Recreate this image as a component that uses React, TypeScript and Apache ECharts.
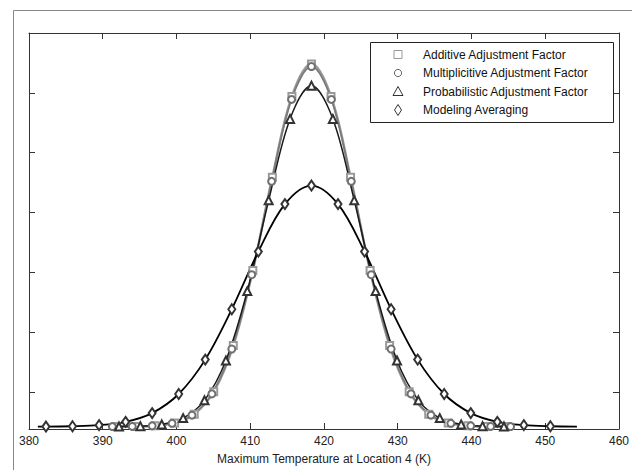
import { useEffect, useRef } from "react";
import * as echarts from "echarts";

// Temperature samples (K) and density values for each adjustment method
const additiveX = [391.8, 394.45, 397.1, 399.75, 402.4, 405.05, 407.7, 410.35, 413.0, 415.65, 418.3, 420.95, 423.6, 426.25, 428.9, 431.55, 434.2, 436.85, 439.5, 442.15, 444.8];
const additiveY = [0.00001, 0.00003, 0.00015, 0.00062, 0.00208, 0.00583, 0.01355, 0.02609, 0.04167, 0.05518, 0.0606, 0.05518, 0.04167, 0.02609, 0.01355, 0.00583, 0.00208, 0.00062, 0.00015, 0.00003, 0.00001];

const multiplicativeX = [391.3, 394.0, 396.7, 399.4, 402.1, 404.8, 407.5, 410.2, 412.9, 415.6, 418.3, 421.0, 423.7, 426.4, 429.1, 431.8, 434.5, 437.2, 439.9, 442.6, 445.3];
const multiplicativeY = [0.00001, 0.00003, 0.00013, 0.00055, 0.00191, 0.00547, 0.01297, 0.02539, 0.04101, 0.05469, 0.0602, 0.05469, 0.04101, 0.02539, 0.01297, 0.00547, 0.00191, 0.00055, 0.00013, 0.00003, 0.00001];

const probabilisticX = [392.2, 395.1, 398.0, 400.9, 403.8, 406.7, 409.6, 412.5, 415.4, 418.3, 421.2, 424.1, 427.0, 429.9, 432.8, 435.7, 438.6, 441.5, 444.4];
const probabilisticY = [0.00001, 0.00008, 0.00037, 0.00142, 0.00439, 0.01105, 0.02265, 0.03782, 0.05144, 0.057, 0.05144, 0.03782, 0.02265, 0.01105, 0.00439, 0.00142, 0.00037, 0.00008, 0.00001];

const averagingX = [381.2, 382.3, 385.9, 389.5, 393.1, 396.7, 400.3, 403.9, 407.5, 411.1, 414.7, 418.3, 421.9, 425.5, 429.1, 432.7, 436.3, 439.9, 443.5, 447.1, 450.7, 454.3];
const averagingY = [0.00001, 0.00001, 0.00006, 0.00024, 0.0008, 0.00226, 0.00545, 0.0112, 0.01962, 0.02926, 0.0372, 0.0403, 0.0372, 0.02926, 0.01962, 0.0112, 0.00545, 0.00226, 0.0008, 0.00024, 0.00006, 0.00001];
// the first and last averaging samples only extend the curve and carry no marker
const averagingMarked = averagingX.map((_, i) => i > 0 && i < averagingX.length - 1);

const seriesNames = [
  "Additive Adjustment Factor",
  "Multiplicitive Adjustment Factor",
  "Probabilistic Adjustment Factor",
  "Modeling Averaging",
];

const xTickValues = [380, 390, 400, 410, 420, 430, 440, 450, 460];
const yTickValues = [0.0058, 0.0158, 0.0258, 0.0358, 0.0458, 0.0558, 0.0658];

const FONT = "'Liberation Sans', Arial, sans-serif";
const AXIS_COLOR = "#333";

function pairs(xs: number[], ys: number[], marked?: boolean[]) {
  return xs.map((x, i) =>
    marked && !marked[i] ? { value: [x, ys[i]], symbol: "none" } : [x, ys[i]]
  );
}

function buildOption(): echarts.EChartsOption {
  const xMin = xTickValues[0];
  const xMax = xTickValues[xTickValues.length - 1];
  const baseX = {
    type: "value" as const,
    min: xMin,
    max: xMax,
    interval: 10,
    splitLine: { show: false },
    axisLine: { show: true, onZero: false, lineStyle: { color: AXIS_COLOR, width: 1 } },
    axisTick: { show: true, inside: true, length: 6, lineStyle: { color: AXIS_COLOR } },
  };
  const baseY = {
    type: "value" as const,
    min: -0.0004,
    max: 0.0658,
    splitLine: { show: false },
    axisLabel: { show: false },
    axisLine: { show: true, onZero: false, lineStyle: { color: AXIS_COLOR, width: 1 } },
    axisTick: { show: true, inside: true, length: 6, customValues: yTickValues, lineStyle: { color: AXIS_COLOR } },
  };

  const lineSeries = (
    name: string,
    data: any[],
    symbol: string,
    symbolSize: number | number[],
    lineColor: string,
    lineWidth: number,
    markerColor: string
  ) => ({
    type: "line" as const,
    name,
    data,
    smooth: 0.35,
    symbol,
    symbolSize,
    showAllSymbol: true,
    clip: false,
    lineStyle: { color: lineColor, width: lineWidth },
    itemStyle: { color: markerColor, borderColor: markerColor, borderWidth: 1 },
    emphasis: { disabled: true },
  });

  const legendRows = [54.5, 73, 91.5, 110];
  const iconX = 398;
  const textX = 423;

  return {
    animation: false,
    backgroundColor: "#fff",
    grid: { left: 29, right: 13, top: 33, bottom: 40, containLabel: false },
    xAxis: [
      {
        ...baseX,
        position: "bottom",
        axisLabel: { color: "#222", fontSize: 12, fontFamily: FONT, margin: 6 },
        name: "Maximum Temperature at Location 4 (K)",
        nameLocation: "middle",
        nameGap: 24,
        nameTextStyle: { color: "#222", fontSize: 12, fontFamily: FONT },
      },
      { ...baseX, position: "top", axisLabel: { show: false } },
    ],
    yAxis: [
      { ...baseY, position: "left" },
      { ...baseY, position: "right" },
    ],
    series: [
      lineSeries(seriesNames[0], pairs(additiveX, additiveY), "emptyRect", 7, "#9a9a9a", 2.5, "#9a9a9a"),
      lineSeries(seriesNames[1], pairs(multiplicativeX, multiplicativeY), "emptyCircle", 7, "#7a7a7a", 1.6, "#707070"),
      lineSeries(seriesNames[2], pairs(probabilisticX, probabilisticY), "emptyTriangle", 8, "#1a1a1a", 1.5, "#333"),
      lineSeries(seriesNames[3], pairs(averagingX, averagingY, averagingMarked), "emptyDiamond", [7, 10], "#000", 1.8, "#333"),
    ],
    graphic: [
      // figure border
      { type: "line", shape: { x1: 13.5, y1: 10.5, x2: 13.5, y2: 470 }, style: { stroke: "#888", lineWidth: 1 }, z: 50 },
      { type: "line", shape: { x1: 13.5, y1: 10.5, x2: 632, y2: 10.5 }, style: { stroke: "#888", lineWidth: 1 }, z: 50 },
      // legend box
      {
        type: "rect",
        shape: { x: 370.5, y: 42.5, width: 243, height: 80 },
        style: { fill: "#fff", stroke: "#222", lineWidth: 1 },
        z: 100,
      },
      {
        type: "rect",
        shape: { x: iconX - 4, y: legendRows[0] - 4, width: 8, height: 8 },
        style: { fill: "#fff", stroke: "#999", lineWidth: 1 },
        z: 101,
      },
      {
        type: "circle",
        shape: { cx: iconX, cy: legendRows[1], r: 3.6 },
        style: { fill: "#fff", stroke: "#666", lineWidth: 1 },
        z: 101,
      },
      {
        type: "polygon",
        shape: { points: [[iconX, legendRows[2] - 5], [iconX - 5, legendRows[2] + 4], [iconX + 5, legendRows[2] + 4]] },
        style: { fill: "#fff", stroke: "#333", lineWidth: 1 },
        z: 101,
      },
      {
        type: "polygon",
        shape: { points: [[iconX, legendRows[3] - 5.5], [iconX + 3.5, legendRows[3]], [iconX, legendRows[3] + 5.5], [iconX - 3.5, legendRows[3]]] },
        style: { fill: "#fff", stroke: "#333", lineWidth: 1 },
        z: 101,
      },
      ...seriesNames.map((name, i) => ({
        type: "text" as const,
        x: textX,
        y: legendRows[i],
        style: { text: name, fill: "#111", font: `12px ${FONT}`, textVerticalAlign: "middle" as const },
        z: 101,
      })),
    ],
  } as echarts.EChartsOption;
}

export default function App() {
  const ref = useRef<HTMLDivElement>(null);
  useEffect(() => {
    if (!ref.current) return;
    const chart = echarts.init(ref.current, null, { renderer: "svg" });
    chart.setOption(buildOption());
    return () => chart.dispose();
  }, []);
  return (
    <div
      ref={ref}
      style={{ position: "absolute", left: 0, top: 0, width: 632, height: 470, background: "#fff" }}
    />
  );
}
